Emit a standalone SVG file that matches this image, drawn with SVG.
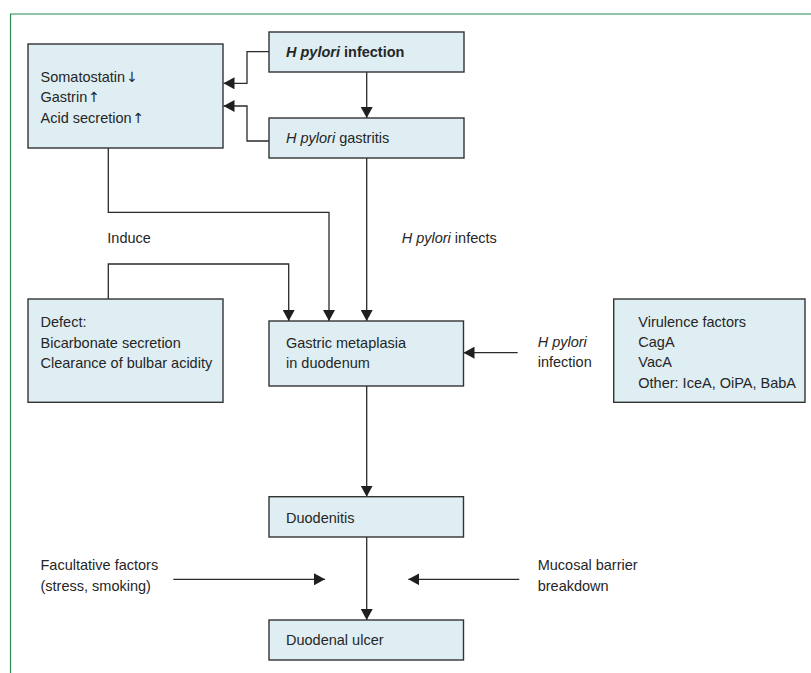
<svg xmlns="http://www.w3.org/2000/svg" width="811" height="673" viewBox="0 0 811 673">
<defs>
<style>
.box{fill:#deeef3;stroke:#333;stroke-width:1.4}
.t{font-family:"Liberation Sans",Arial,sans-serif;font-size:14.5px;fill:#262626}
.b{font-weight:bold}
.i{font-style:italic}
.ar{font-family:"DejaVu Sans",sans-serif;font-size:14px}
.c{fill:none;stroke:#2a2a2a;stroke-width:1.3}
</style>
<marker id="ah" markerWidth="11" markerHeight="12" refX="11" refY="6" orient="auto" markerUnits="userSpaceOnUse">
<path d="M0,0 L11,6 L0,12 Z" fill="#1f1f1f"/>
</marker>
</defs>
<rect width="811" height="673" fill="#fff"/>
<line x1="10" y1="14" x2="811" y2="14" stroke="#6cb08e" stroke-width="1.5"/>
<line x1="10.5" y1="14" x2="10.5" y2="673" stroke="#2c8c55" stroke-width="1.2"/>

<g id="connectors">
<path class="c" d="M269,51.7 H247 V83.3 H223.5" marker-end="url(#ah)"/>
<path class="c" d="M269,141 H247 V106 H223.5" marker-end="url(#ah)"/>
<path class="c" d="M366.7,72 V118" marker-end="url(#ah)"/>
<path class="c" d="M108.3,148 V212.3 H329 V321" marker-end="url(#ah)"/>
<path class="c" d="M366.7,158 V321" marker-end="url(#ah)"/>
<path class="c" d="M108.3,299 V264 H288.7 V321" marker-end="url(#ah)"/>
<path class="c" d="M517.7,352.7 H463.5" marker-end="url(#ah)"/>
<path class="c" d="M366.7,386 V496.7" marker-end="url(#ah)"/>
<path class="c" d="M366.7,537 V620" marker-end="url(#ah)"/>
<path class="c" d="M173.3,579.3 H325" marker-end="url(#ah)"/>
<path class="c" d="M519.3,579.3 H408.3" marker-end="url(#ah)"/>
</g>

<g id="hormones">
<rect class="box" x="28" y="44" width="195" height="104"/>
<text class="t" x="40.5" y="82">Somatostatin<tspan class="ar" dx="1">↓</tspan></text>
<text class="t" x="40.5" y="102">Gastrin<tspan class="ar" dx="1">↑</tspan></text>
<text class="t" x="40.5" y="123">Acid secretion<tspan class="ar" dx="1">↑</tspan></text>
</g>

<g id="infection">
<rect class="box" x="269" y="32" width="195" height="40"/>
<text class="t b" x="286" y="57"><tspan class="i">H pylori</tspan> infection</text>
</g>

<g id="gastritis">
<rect class="box" x="269" y="118" width="195" height="40"/>
<text class="t" x="286" y="143"><tspan class="i">H pylori</tspan> gastritis</text>
</g>

<g id="label-induce">
<text class="t" x="107.3" y="243">Induce</text>
</g>
<g id="label-infects">
<text class="t" x="401.7" y="243"><tspan class="i">H pylori</tspan> infects</text>
</g>

<g id="defect">
<rect class="box" x="28" y="299" width="195" height="103.3"/>
<text class="t" x="40.5" y="327">Defect:</text>
<text class="t" x="40.5" y="348">Bicarbonate secretion</text>
<text class="t" x="40.5" y="368">Clearance of bulbar acidity</text>
</g>

<g id="metaplasia">
<rect class="box" x="269" y="321" width="194.5" height="65"/>
<text class="t" x="286" y="348">Gastric metaplasia</text>
<text class="t" x="286" y="368">in duodenum</text>
</g>

<g id="label-hp-infection">
<text class="t i" x="537.7" y="347">H pylori</text>
<text class="t" x="537.7" y="367">infection</text>
</g>

<g id="virulence">
<rect class="box" x="613.7" y="299" width="191.3" height="103.3"/>
<text class="t" x="638.3" y="327">Virulence factors</text>
<text class="t" x="638.3" y="347">CagA</text>
<text class="t" x="638.3" y="367">VacA</text>
<text class="t" x="638.3" y="388">Other: IceA, OiPA, BabA</text>
</g>

<g id="duodenitis">
<rect class="box" x="269" y="496.7" width="194.5" height="40.3"/>
<text class="t" x="286" y="522.5">Duodenitis</text>
</g>

<g id="facultative">
<text class="t" x="40.5" y="570">Facultative factors</text>
<text class="t" x="40.5" y="590.5">(stress, smoking)</text>
</g>

<g id="mucosal">
<text class="t" x="537.7" y="570">Mucosal barrier</text>
<text class="t" x="537.7" y="590.5">breakdown</text>
</g>

<g id="ulcer">
<rect class="box" x="269" y="620" width="194.5" height="40"/>
<text class="t" x="286" y="645">Duodenal ulcer</text>
</g>
</svg>
